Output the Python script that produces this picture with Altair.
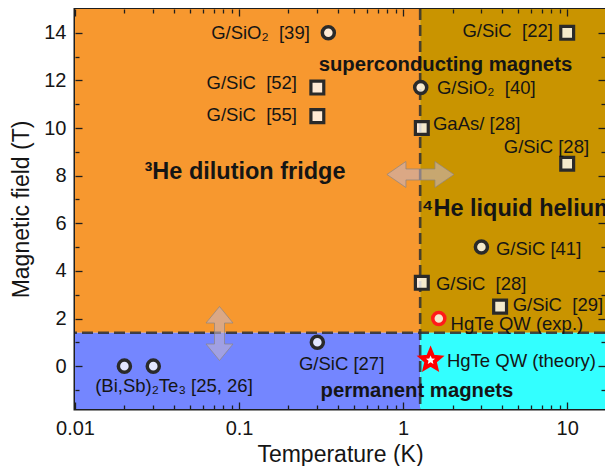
import altair as alt
import pandas as pd

FONT = "Liberation Sans, Arial, Helvetica, sans-serif"
INK = "#151515"
SP2 = "\u00a0 "  # two visible spaces

# ---------------- axis ranges and regime boundaries ----------------
T_DOMAIN = [0.01, 17.0]
B_DOMAIN = [-1.8, 15.0]
T_SPLIT = 1.27
B_SPLIT = 1.4

# ---------------- regime backgrounds ----------------
region_names = ["dilution", "helium", "perm_low", "perm_high"]
region_T0 = [0.01, 1.27, 0.01, 1.27]
region_T1 = [1.27, 17.0, 1.27, 17.0]
region_B0 = [1.4, 1.4, -1.8, -1.8]
region_B1 = [15.0, 15.0, 1.4, 1.4]
region_colors = ["#F7982F", "#C99400", "#7486FF", "#33FFFF"]

# ---------------- data points ----------------
circle_T = [0.35, 1.28, 3.0, 0.30, 0.020, 0.030]
circle_B = [14.0, 11.7, 5.0, 1.0, 0.0, 0.0]

square_T = [0.30, 0.30, 10.0, 1.30, 10.0, 1.30, 3.9]
square_B = [11.7, 10.5, 14.0, 10.0, 8.5, 3.5, 2.5]

hgte_exp_T = [1.65]
hgte_exp_B = [2.0]
hgte_theory_T = [1.47]
hgte_theory_B = [0.25]

# ---------------- labels (anchor in data units) ----------------
right_labels = ["G/SiO\u2082" + SP2 + "[39]", "G/SiC" + SP2 + "[52]",
                "G/SiC" + SP2 + "[55]", "G/SiC" + SP2 + "[22]"]
right_T = [0.270, 0.2255, 0.2255, 8.18]
right_B = [14.0, 11.9, 10.55, 14.07]

left_labels = ["G/SiO\u2082" + SP2 + "[40]", "GaAs/ [28]", "G/SiC [41]", "G/SiC" + SP2 + "[28]",
               "G/SiC" + SP2 + "[29]", "HgTe QW (exp.)", "HgTe QW (theory)", "G/SiC [27]"]
left_T = [1.607, 1.52, 3.68, 1.585, 4.65, 1.947, 1.85, 0.2317]
left_B = [11.67, 10.18, 4.9, 3.47, 2.55, 1.76, 0.21, 0.07]

center_labels = ["G/SiC [28]", "(Bi,Sb)\u2082Te\u2083 [25, 26]"]
center_T = [7.47, 0.0401]
center_B = [9.19, -0.85]

regime_big_center = ["\u00b3He dilution fridge"]
regime_big_center_T = [0.1087]
regime_big_center_B = [8.14]
regime_big_left = ["\u2074He liquid helium"]
regime_big_left_T = [1.30]
regime_big_left_B = [6.58]
regime_small = ["superconducting magnets", "permanent magnets"]
regime_small_T = [1.81, 1.213]
regime_small_B = [12.63, -1.03]

# ---------------- arrows ----------------
harrow_T = [1.275]
harrow_B = [8.05]
varrow_T = [0.076]
varrow_B = [1.37]
H_ARROW = ("M-1,0L-0.433,-0.388L-0.433,-0.164L0.433,-0.164L0.433,-0.388L1,0"
           "L0.433,0.388L0.433,0.164L-0.433,0.164L-0.433,0.388Z")
V_ARROW = ("M0,-1L0.5,-0.389L0.185,-0.389L0.185,0.389L0.5,0.389L0,1"
           "L-0.5,0.389L-0.185,0.389L-0.185,-0.389L-0.5,-0.389Z")
STAR = ("M0,-1L0.265,-0.364L0.951,-0.309L0.428,0.139L0.588,0.809L0,0.45"
        "L-0.588,0.809L-0.428,0.139L-0.951,-0.309L-0.265,-0.364Z")

# ---------------- ticks ----------------
x_major_ticks = [0.01, 0.1, 1, 10]
x_minor_ticks = [0.02, 0.03, 0.04, 0.05, 0.06, 0.07, 0.08, 0.09,
                 0.2, 0.3, 0.4, 0.5, 0.6, 0.7, 0.8, 0.9,
                 2, 3, 4, 5, 6, 7, 8, 9]
y_major_ticks = [0, 2, 4, 6, 8, 10, 12, 14]
y_minor_ticks = [-1, 1, 3, 5, 7, 9, 11, 13]

xs = alt.Scale(type="log", domain=T_DOMAIN, nice=False)
ys = alt.Scale(domain=B_DOMAIN, nice=False, zero=False)


def tick_axis(orient, values, length):
    return alt.Axis(orient=orient, values=values, labels=False, tickSize=length,
                    offset=-length, domain=False, grid=False, title="",
                    tickColor="#1e1e1e", tickWidth=1.3, zindex=2)


x_label_axis = alt.Axis(orient="bottom", values=x_major_ticks, format="~g", ticks=False,
                        domain=False, grid=False, labelFont=FONT, labelFontSize=20,
                        labelColor=INK, labelPadding=9, labelFlush=False, labelOverlap=False,
                        title="Temperature (K)", titleFont=FONT, titleFontSize=23,
                        titleFontWeight="normal", titleColor=INK, titlePadding=5, zindex=2)
y_label_axis = alt.Axis(orient="left", values=y_major_ticks, ticks=False, domain=False,
                        grid=False, labelFont=FONT, labelFontSize=20, labelColor=INK,
                        labelPadding=9, labelFlush=False, labelOverlap=False,
                        title="Magnetic field (T)", titleFont=FONT, titleFontSize=23,
                        titleFontWeight="normal", titleColor=INK, titlePadding=10, zindex=2)

regions_df = pd.DataFrame({"name": region_names, "T0": region_T0, "T1": region_T1,
                           "B0": region_B0, "B1": region_B1})
regions = alt.Chart(regions_df).mark_rect(opacity=1).encode(
    x=alt.X("T0:Q", scale=xs, axis=x_label_axis),
    x2="T1:Q",
    y=alt.Y("B0:Q", scale=ys, axis=y_label_axis),
    y2="B1:Q",
    color=alt.Color("name:N", scale=alt.Scale(domain=region_names, range=region_colors),
                    legend=None),
)

hline = alt.Chart(pd.DataFrame({"B": [B_SPLIT]})).mark_rule(
    color="#2e2e2e", strokeWidth=2.6, strokeDash=[11, 5], opacity=0.85
).encode(y=alt.Y("B:Q", scale=ys, axis=tick_axis("left", y_major_ticks, 7)))

vline = alt.Chart(pd.DataFrame({"T": [T_SPLIT]})).mark_rule(
    color="#2e2e2e", strokeWidth=2.6, strokeDash=[11, 5], opacity=0.85
).encode(x=alt.X("T:Q", scale=xs, axis=tick_axis("bottom", x_major_ticks, 7)))

circles = alt.Chart(pd.DataFrame({"T": circle_T, "B": circle_B})).mark_circle(
    color="white", fillOpacity=0.8, opacity=1, stroke="#2a2a2a", strokeWidth=3.5, size=145
).encode(
    x=alt.X("T:Q", scale=xs, axis=tick_axis("bottom", x_minor_ticks, 4)),
    y=alt.Y("B:Q", scale=ys, axis=tick_axis("left", y_minor_ticks, 4)),
)

squares = alt.Chart(pd.DataFrame({"T": square_T, "B": square_B})).mark_square(
    color="white", fillOpacity=0.8, opacity=1, stroke="#2a2a2a", strokeWidth=3.2, size=165
).encode(
    x=alt.X("T:Q", scale=xs, axis=tick_axis("top", x_major_ticks, 7)),
    y=alt.Y("B:Q", scale=ys, axis=tick_axis("right", y_major_ticks, 7)),
)

hgte_exp = alt.Chart(pd.DataFrame({"T": hgte_exp_T, "B": hgte_exp_B})).mark_circle(
    color="white", fillOpacity=0.8, opacity=1, stroke="#FF1A1A", strokeWidth=3.5, size=145
).encode(
    x=alt.X("T:Q", scale=xs, axis=tick_axis("top", x_minor_ticks, 4)),
    y=alt.Y("B:Q", scale=ys, axis=tick_axis("right", y_minor_ticks, 4)),
)

hgte_theory = alt.Chart(pd.DataFrame({"T": hgte_theory_T, "B": hgte_theory_B})).mark_point(
    shape=STAR, filled=True, fill="white", fillOpacity=1, opacity=1,
    stroke="#FF0000", strokeWidth=3.8, size=380
).encode(x=alt.X("T:Q", scale=xs, axis=None), y=alt.Y("B:Q", scale=ys, axis=None))

arrow_style = dict(filled=True, fill="#C4B6CC", fillOpacity=0.55, opacity=1,
                   stroke="#8d8580", strokeWidth=1, strokeOpacity=0.7)
harrow = alt.Chart(pd.DataFrame({"T": harrow_T, "B": harrow_B})).mark_point(
    shape=H_ARROW, size=4489, **arrow_style
).encode(x=alt.X("T:Q", scale=xs, axis=None), y=alt.Y("B:Q", scale=ys, axis=None))
varrow = alt.Chart(pd.DataFrame({"T": varrow_T, "B": varrow_B})).mark_point(
    shape=V_ARROW, size=2916, **arrow_style
).encode(x=alt.X("T:Q", scale=xs, axis=None), y=alt.Y("B:Q", scale=ys, axis=None))


def text_layer(labels, T, B, align, size, weight="normal"):
    df = pd.DataFrame({"label": labels, "T": T, "B": B})
    return alt.Chart(df).mark_text(
        align=align, baseline="middle", font=FONT, fontSize=size,
        fontWeight=weight, color=INK
    ).encode(
        x=alt.X("T:Q", scale=xs, axis=None),
        y=alt.Y("B:Q", scale=ys, axis=None),
        text="label:N",
    )


layers = [
    regions, hline, vline, harrow, varrow, circles, squares, hgte_exp, hgte_theory,
    text_layer(right_labels, right_T, right_B, "right", 18.5),
    text_layer(left_labels, left_T, left_B, "left", 18.5),
    text_layer(center_labels, center_T, center_B, "center", 18.5),
    text_layer(regime_big_center, regime_big_center_T, regime_big_center_B, "center", 23.5, "bold"),
    text_layer(regime_big_left, regime_big_left_T, regime_big_left_B, "left", 23.5, "bold"),
    text_layer(regime_small, regime_small_T, regime_small_B, "center", 20.3, "bold"),
]

chart = alt.layer(*layers).resolve_axis(x="independent", y="independent").properties(
    width=530, height=400,
    autosize=alt.AutoSizeParams(type="none"),
    padding={"left": 67, "top": 1, "right": 0, "bottom": 57},
).configure_view(stroke="#1e1e1e", strokeWidth=3)

chart.save("out.html", embed_options={"renderer": "svg", "actions": False})
